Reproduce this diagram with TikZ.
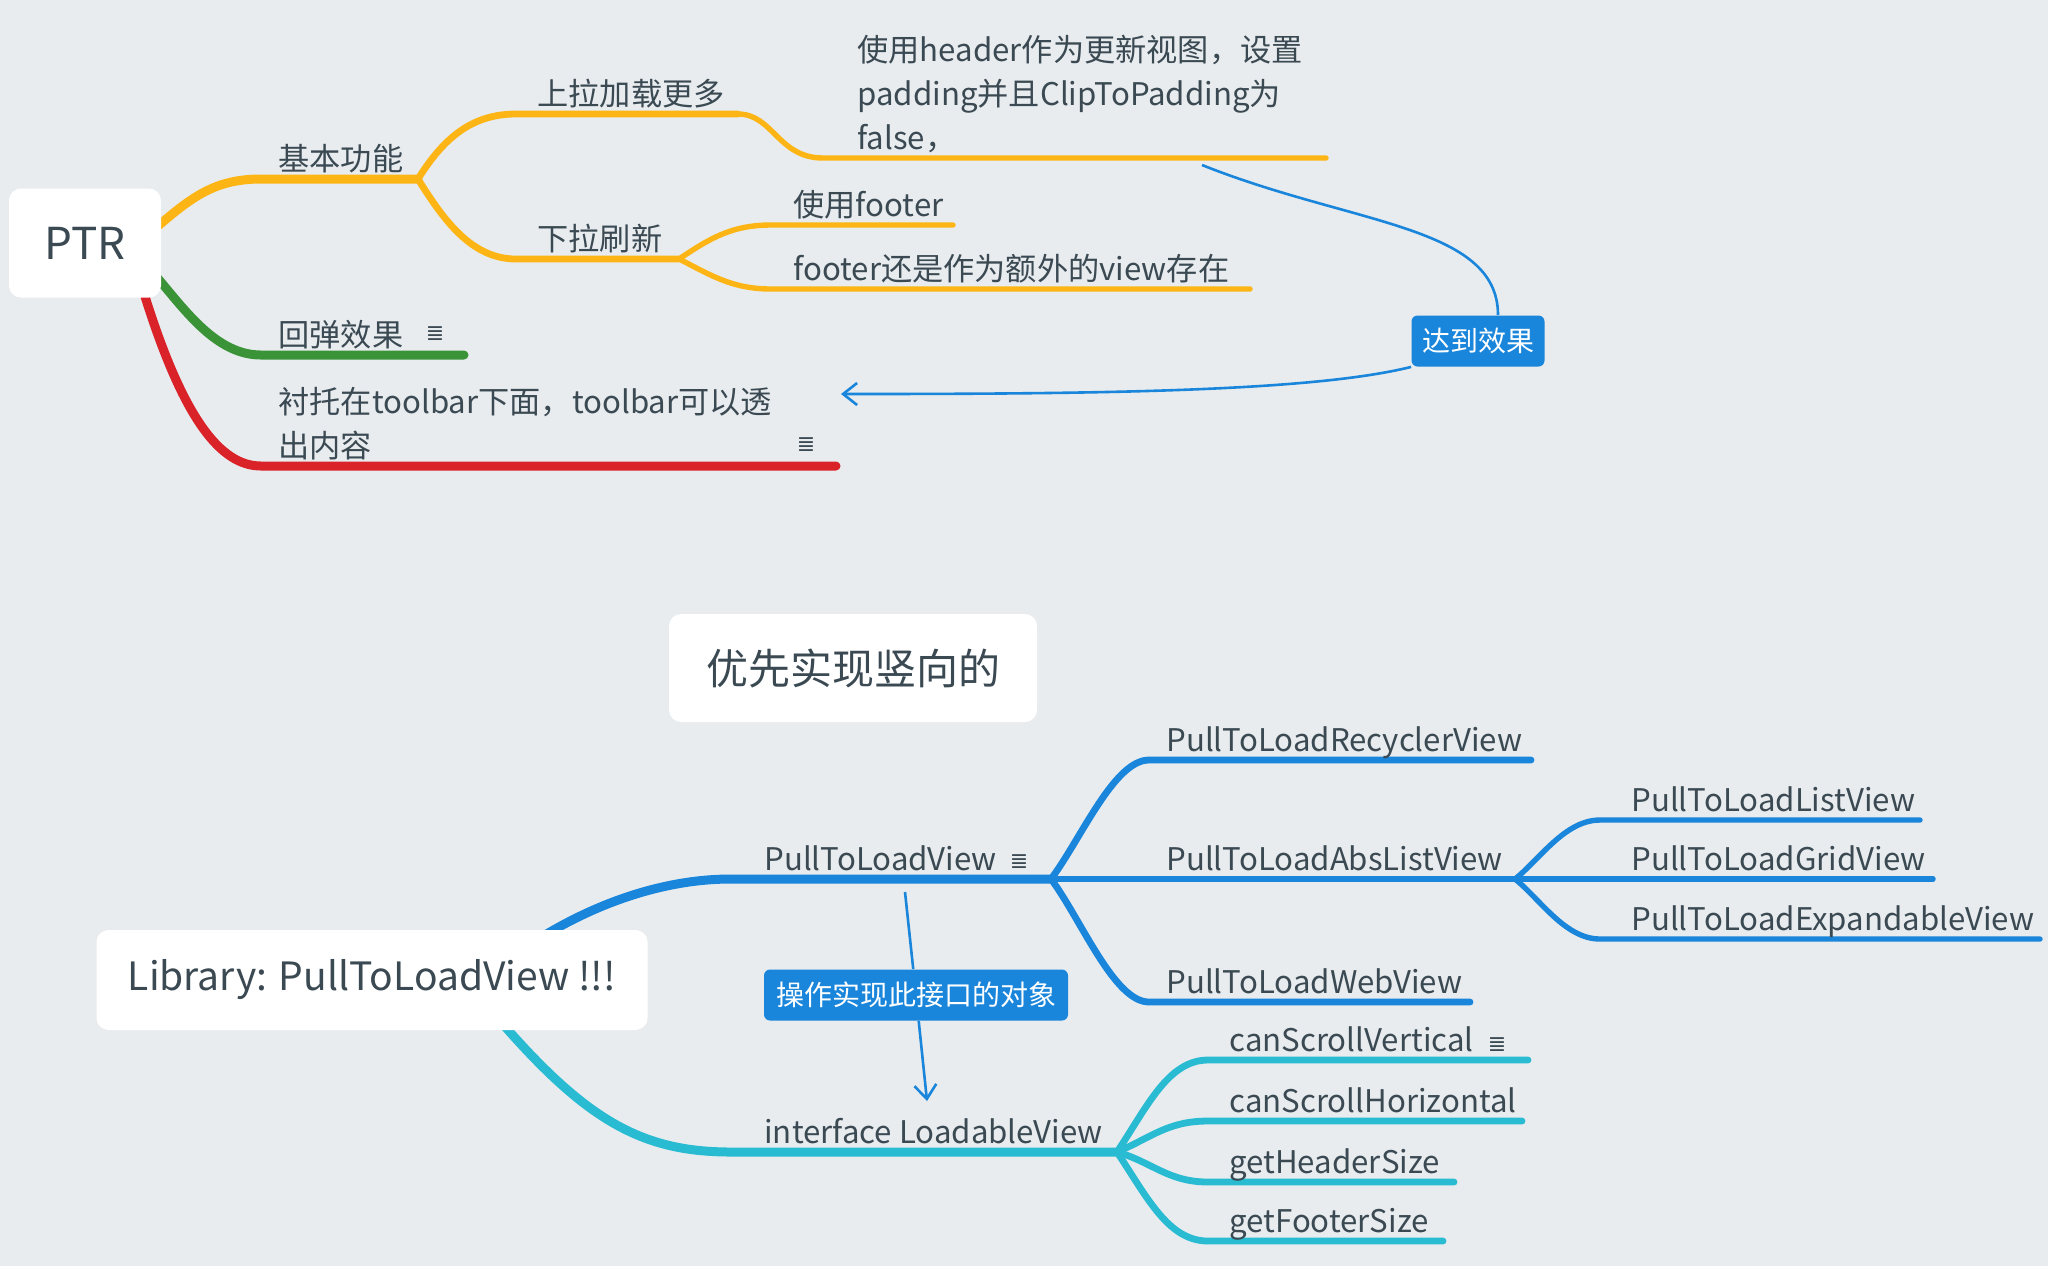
\documentclass[tikz,border=0pt]{standalone}
\usepackage{fontspec}
\setmainfont{Noto Sans CJK SC}
\newfontfamily\iconfont{DejaVu Sans}
\usetikzlibrary{arrows.meta,backgrounds}

\definecolor{paper}{HTML}{E8ECEF}
\definecolor{ink}{HTML}{3A4952}
\definecolor{mmyellow}{HTML}{FCB514}
\definecolor{mmgreen}{HTML}{3B9337}
\definecolor{mmred}{HTML}{DA2229}
\definecolor{mmblue}{HTML}{1985DB}
\definecolor{mmcyan}{HTML}{29BBD2}

\tikzset{
  rootbox/.style={fill=white,rounded corners=6pt,text=ink,font=\fontsize{21}{25}\selectfont},
  topic/.style={anchor=base west,inner sep=0pt,text=ink,font=\fontsize{15.6}{22}\selectfont,align=left},
  callout/.style={fill=mmblue,rounded corners=3pt,text=white,font=\fontsize{14}{16}\selectfont,minimum height=25.5pt},
  lvone/.style={line width=4.5pt,line cap=round},
  lvtwo/.style={line width=3.4pt,line cap=round},
  lvthree/.style={line width=2.7pt,line cap=round},
  link/.style={mmblue,line width=1.3pt},
  notemark/.style={inner sep=0pt,text=ink,font=\iconfont\fontsize{11}{11}\selectfont}
}

\begin{document}
\begin{tikzpicture}[x=0.5pt,y=-0.5pt]
    \useasboundingbox (0,0) rectangle (2048,1266);

    % PTR map
    \node[rootbox,minimum width=76pt,minimum height=54.5pt,font=\fontsize{22}{25}\selectfont] at (85,243) (ptr) {PTR};
    \node[topic] at (278,170) (basic) {基本功能};
    \node[topic] at (537,105) (more) {上拉加载更多};
    \node[topic] at (857,149) (header) {使用header作为更新视图，设置\\padding并且ClipToPadding为\\false，};
    \node[topic] at (537,250) (pull) {下拉刷新};
    \node[topic] at (793,216) (foot1) {使用footer};
    \node[topic] at (793,280) (foot2) {footer还是作为额外的view存在};
    \node[topic] at (278,346) (bounce) {回弹效果};
    \node[notemark] at (435,334) (bounce-note) {≣};
    \node[topic] at (278,457) (toolbar) {衬托在toolbar下面，toolbar可以透\\出内容};
    \node[notemark] at (806,445) (toolbar-note) {≣};
    \node[callout,minimum width=66.5pt] at (1478,341) (reach) {达到效果};

    \coordinate (ptr-y) at (158,226);
    \coordinate (ptr-g) at (155,275);
    \coordinate (ptr-r) at (143,290);
    \coordinate (basic-a) at (261,179);
    \coordinate (basic-b) at (418,179);
    \coordinate (more-a) at (516,114);
    \coordinate (more-b) at (738,114);
    \coordinate (header-a) at (823,158);
    \coordinate (header-b) at (1326,158);
    \coordinate (pull-a) at (516,259);
    \coordinate (pull-b) at (679,259);
    \coordinate (foot1-a) at (771,225);
    \coordinate (foot1-b) at (953,225);
    \coordinate (foot2-a) at (771,289);
    \coordinate (foot2-b) at (1250,289);
    \coordinate (bounce-a) at (261,355);
    \coordinate (bounce-b) at (464,355);
    \coordinate (toolbar-a) at (261,466);
    \coordinate (toolbar-b) at (836,466);
    \coordinate (hd-ref) at (1202,165);
    \coordinate (tb-ref) at (841,394);

    % Library map
    \node[rootbox,minimum width=184pt,minimum height=54pt] at (853,668) (prior) {优先实现竖向的};
    \node[rootbox,minimum width=275.5pt,minimum height=50pt,font=\fontsize{19.5}{24}\selectfont] at (372,980) (lib) {Library: PullToLoadView !!!};
    \node[topic] at (764,870)  (pv) {PullToLoadView};
    \node[notemark] at (1019,862) (pv-note) {≣};
    \node[topic] at (1166,751) (recycler) {PullToLoadRecyclerView};
    \node[topic] at (1166,870) (abslist) {PullToLoadAbsListView};
    \node[topic] at (1166,993) (web) {PullToLoadWebView};
    \node[topic] at (1631,811) (listv) {PullToLoadListView};
    \node[topic] at (1631,870) (gridv) {PullToLoadGridView};
    \node[topic] at (1631,930) (expand) {PullToLoadExpandableView};
    \node[topic] at (764,1143) (lv) {interface LoadableView};
    \node[topic] at (1229,1051) (csv) {canScrollVertical};
    \node[notemark] at (1497,1045) (csv-note) {≣};
    \node[topic] at (1229,1112) (csh) {canScrollHorizontal};
    \node[topic] at (1229,1173) (ghs) {getHeaderSize};
    \node[topic] at (1229,1232) (gfs) {getFooterSize};
    \node[callout,minimum width=152pt] at (916,995) (impl) {操作实现此接口的对象};

    \coordinate (lib-b) at (545,935);
    \coordinate (lib-c) at (495,1015);
    \coordinate (pv-a) at (731,879);
    \coordinate (pv-b) at (1051,879);
    \coordinate (recycler-a) at (1149,760);
    \coordinate (recycler-b) at (1531,760);
    \coordinate (abslist-b) at (1515,879);
    \coordinate (web-a) at (1149,1002);
    \coordinate (web-b) at (1470,1002);
    \coordinate (listv-a) at (1600,820);
    \coordinate (listv-b) at (1920,820);
    \coordinate (gridv-b) at (1933,879);
    \coordinate (expand-a) at (1600,939);
    \coordinate (expand-b) at (2040,939);
    \coordinate (lv-a) at (731,1152);
    \coordinate (lv-b) at (1117,1152);
    \coordinate (csv-a) at (1208,1060);
    \coordinate (csv-b) at (1528,1060);
    \coordinate (csh-a) at (1208,1121);
    \coordinate (csh-b) at (1522,1121);
    \coordinate (ghs-a) at (1208,1182);
    \coordinate (ghs-b) at (1454,1182);
    \coordinate (gfs-a) at (1208,1241);
    \coordinate (gfs-b) at (1443,1241);
    \coordinate (pv-ref) at (905,892);
    \coordinate (lv-ref) at (927,1101);

    \begin{scope}[on background layer]
    \fill[paper] (0,0) rectangle (2048,1266);

    % branches
    \draw[mmyellow,lvone] (ptr-y) .. controls +(35,-30) and +(-45,0) .. (basic-a) -- (basic-b);
    \draw[mmyellow,lvtwo] (basic-b) .. controls +(25,-40) and +(-45,0) .. (more-a) -- (more-b);
    \draw[mmyellow,lvthree] (more-b) .. controls +(35,0) and +(-45,0) .. (header-a) -- (header-b);
    \draw[mmyellow,lvtwo] (basic-b) .. controls +(25,40) and +(-45,0) .. (pull-a) -- (pull-b);
    \draw[mmyellow,lvthree] (pull-b) .. controls +(30,-20) and +(-40,0) .. (foot1-a) -- (foot1-b);
    \draw[mmyellow,lvthree] (pull-b) .. controls +(30,15) and +(-40,0) .. (foot2-a) -- (foot2-b);
    \draw[mmgreen,lvone] (ptr-g) .. controls +(30,35) and +(-45,0) .. (bounce-a) -- (bounce-b);
    \draw[mmred,lvone] (ptr-r) .. controls +(40,130) and +(-40,0) .. (toolbar-a) -- (toolbar-b);

    \draw[mmblue,lvone] (lib-b) .. controls +(50,-30) and +(-70,0) .. (pv-a) -- (pv-b);
    \draw[mmblue,lvtwo] (pv-b) .. controls +(30,-40) and +(-35,0) .. (recycler-a) -- (recycler-b);
    \draw[mmblue,lvtwo] (pv-b) -- (abslist-b);
    \draw[mmblue,lvtwo] (pv-b) .. controls +(30,40) and +(-35,0) .. (web-a) -- (web-b);
    \draw[mmblue,lvthree] (abslist-b) .. controls +(25,-20) and +(-35,0) .. (listv-a) -- (listv-b);
    \draw[mmblue,lvthree] (abslist-b) -- (gridv-b);
    \draw[mmblue,lvthree] (abslist-b) .. controls +(25,20) and +(-35,0) .. (expand-a) -- (expand-b);
    \draw[mmcyan,lvone] (lib-c) .. controls +(90,105) and +(-90,0) .. (lv-a) -- (lv-b);
    \draw[mmcyan,lvtwo] (lv-b) .. controls +(30,-45) and +(-40,0) .. (csv-a) -- (csv-b);
    \draw[mmcyan,lvtwo] (lv-b) .. controls +(35,-15) and +(-40,0) .. (csh-a) -- (csh-b);
    \draw[mmcyan,lvtwo] (lv-b) .. controls +(35,10) and +(-40,0) .. (ghs-a) -- (ghs-b);
    \draw[mmcyan,lvtwo] (lv-b) .. controls +(30,45) and +(-40,0) .. (gfs-a) -- (gfs-b);

    % callout links
    \draw[link] (hd-ref) .. controls +(150,60) and +(0,-90) .. ([xshift=10pt]reach.north);
    \draw[link,-{Straight Barb[length=7pt,width=11pt]}] (reach.south west) .. controls +(-100,25) and +(250,0) .. (tb-ref);
    \draw[link] (pv-ref) -- (impl);
    \draw[link,-{Straight Barb[length=7pt,width=11pt]}] (impl) -- (lv-ref);
    \end{scope}
\end{tikzpicture}
\end{document}
